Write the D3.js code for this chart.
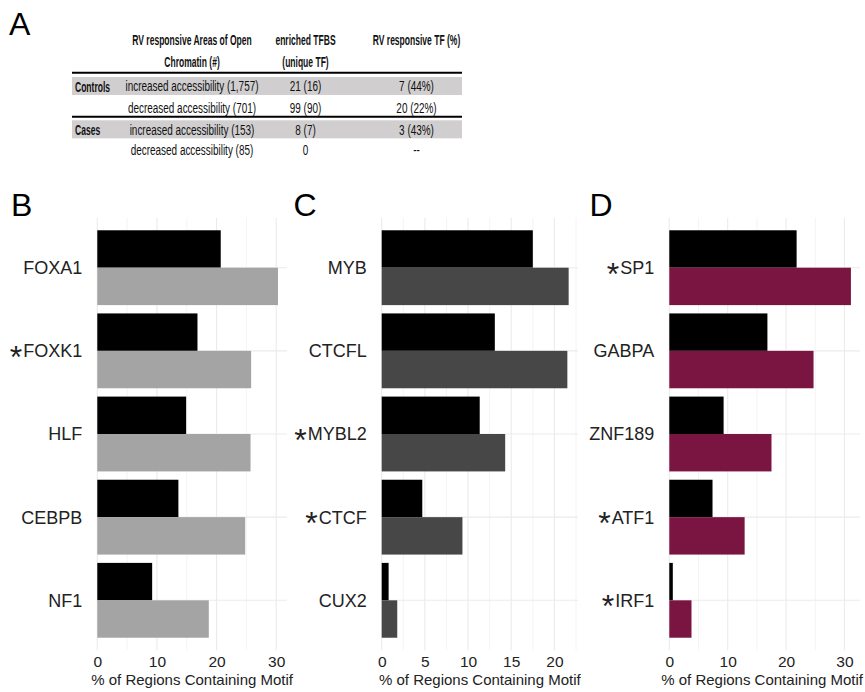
<!DOCTYPE html>
<html>
<head>
<meta charset="utf-8">
<script src="https://cdn.jsdelivr.net/npm/d3@7"></script>
<style>
  body { margin: 0; background: #fff; }
  text { font-family: "Liberation Sans", Arial, sans-serif; }
</style>
</head>
<body>
<svg id="fig" width="865" height="692"></svg>
<script>
// ---- Panel A: summary table ----
const tableHeader = [
  ["RV responsive Areas of Open", "Chromatin (#)"],
  ["enriched TFBS", "(unique TF)"],
  ["RV responsive TF (%)"]
];
const tableGroups = ["Controls", "", "Cases", ""];
const tableRegions = [
  "increased accessibility (1,757)",
  "decreased accessibility (701)",
  "increased accessibility (153)",
  "decreased accessibility (85)"
];
const tableTFBS = ["21 (16)", "99 (90)", "8 (7)", "0"];
const tableResponsive = ["7 (44%)", "20 (22%)", "3 (43%)", "--"];

// ---- Panels B-D: % of regions containing each motif ----
const motifsB = ["FOXA1", "FOXK1", "HLF", "CEBPB", "NF1"];
const starredB = [false, true, false, false, false];
const backgroundB = [20.7, 16.8, 14.9, 13.6, 9.2];
const responsiveB = [30.3, 25.8, 25.7, 24.8, 18.7];
const ticksB = [0, 10, 20, 30];

const motifsC = ["MYB", "CTCFL", "MYBL2", "CTCF", "CUX2"];
const starredC = [false, false, true, true, false];
const backgroundC = [17.5, 13.1, 11.35, 4.7, 0.8];
const responsiveC = [21.65, 21.5, 14.3, 9.35, 1.8];
const ticksC = [0, 5, 10, 15, 20];

const motifsD = ["SP1", "GABPA", "ZNF189", "ATF1", "IRF1"];
const starredD = [true, false, false, true, true];
const backgroundD = [21.8, 16.8, 9.3, 7.4, 0.6];
const responsiveD = [31.1, 24.7, 17.5, 12.9, 3.8];
const ticksD = [0, 10, 20, 30];

const axisTitle = "% of Regions Containing Motif";

const W = 865;
const svg = d3.select("#fig");

// ---------- Table ----------
const tbl = svg.append("g");
const colX = [192, 305.5, 416.5];
const groupX = 75;
const headY = [40, 62];
const rowY = [86.7, 108, 130, 150];
const tblLeft = 72, tblRight = 462;

// condensed lettering for the table cells
function squeezed(sel, x, y, anchor, bold) {
  const sx = bold ? 0.61 : 0.71;
  return sel.append("text")
    .attr("transform", `translate(${x},${y}) scale(${sx},1)`)
    .attr("text-anchor", anchor)
    .attr("dominant-baseline", "central")
    .attr("font-size", 14)
    .attr("font-weight", bold ? "bold" : "normal")
    .attr("fill", "#111");
}

// shaded rows
[0, 2].forEach(i => {
  tbl.append("rect")
    .attr("x", tblLeft).attr("y", rowY[i] - 9.7)
    .attr("width", tblRight - tblLeft).attr("height", 18)
    .attr("fill", "#d0cece");
});
// heavy rules
[72.7, 116.7].forEach(yy => {
  tbl.append("line")
    .attr("x1", tblLeft).attr("x2", tblRight)
    .attr("y1", yy).attr("y2", yy)
    .attr("stroke", "#000").attr("stroke-width", 2);
});
tableHeader.forEach((lines, c) => {
  lines.forEach((t, k) => squeezed(tbl, colX[c], headY[k], "middle", true).text(t));
});
tableGroups.forEach((t, r) => { if (t) squeezed(tbl, groupX, rowY[r], "start", true).text(t); });
tableRegions.forEach((t, r) => squeezed(tbl, colX[0], rowY[r], "middle", false).text(t));
tableTFBS.forEach((t, r) => squeezed(tbl, colX[1], rowY[r], "middle", false).text(t));
tableResponsive.forEach((t, r) => squeezed(tbl, colX[2], rowY[r], "middle", false).text(t));

// panel letters
const letters = [["A", 9, 35], ["B", 11, 216], ["C", 293.4, 216], ["D", 589.5, 216]];
letters.forEach(([t, x, y]) => {
  svg.append("text").attr("x", x).attr("y", y)
    .attr("font-size", 32).attr("fill", "#000").text(t);
});

// ---------- Bar panels ----------
const panelTop = 217.8, panelBottom = 650.2;
const panels = [
  { names: motifsB, starred: starredB, bg: backgroundB, resp: responsiveB, ticks: ticksB, color: "#a4a4a4", left: 97.3, right: 287 },
  { names: motifsC, starred: starredC, bg: backgroundC, resp: responsiveC, ticks: ticksC, color: "#474747", left: 381.7, right: 578 },
  { names: motifsD, starred: starredD, bg: backgroundD, resp: responsiveD, ticks: ticksD, color: "#7a1541", left: 669.3, right: 860 }
];

panels.forEach(p => {
  const g = svg.append("g");
  const xMax = d3.max(p.bg.concat(p.resp)) * 1.05;
  const x = d3.scaleLinear().domain([0, xMax]).range([p.left, p.right]);
  const y = d3.scaleBand().domain(p.names).range([panelTop, panelBottom])
    .paddingInner(0.1).paddingOuter(0.15);
  const sub = d3.scaleBand().domain(["bg", "resp"]).range([0, y.bandwidth()]);

  // grid
  const step = p.ticks[1] - p.ticks[0];
  const minors = d3.range(step / 2, xMax, step);
  g.selectAll(".minor").data(minors).join("line")
    .attr("x1", d => x(d)).attr("x2", d => x(d))
    .attr("y1", panelTop).attr("y2", panelBottom)
    .attr("stroke", "#f1f1f1").attr("stroke-width", 0.8);
  g.selectAll(".major").data(p.ticks).join("line")
    .attr("x1", d => x(d)).attr("x2", d => x(d))
    .attr("y1", panelTop).attr("y2", panelBottom)
    .attr("stroke", "#ebebeb").attr("stroke-width", 1.1);
  g.selectAll(".hgrid").data(p.names).join("line")
    .attr("x1", p.left).attr("x2", p.right)
    .attr("y1", d => y(d) + y.bandwidth() / 2).attr("y2", d => y(d) + y.bandwidth() / 2)
    .attr("stroke", "#ebebeb").attr("stroke-width", 1.1);

  // bars
  g.selectAll(".bgbar").data(p.names).join("rect")
    .attr("x", x(0)).attr("y", d => y(d) + sub("bg"))
    .attr("width", (d, i) => x(p.bg[i]) - x(0)).attr("height", sub.bandwidth())
    .attr("fill", "#000");
  g.selectAll(".respbar").data(p.names).join("rect")
    .attr("x", x(0)).attr("y", d => y(d) + sub("resp"))
    .attr("width", (d, i) => x(p.resp[i]) - x(0)).attr("height", sub.bandwidth())
    .attr("fill", p.color);

  // x axis
  const ax = g.append("g").attr("transform", `translate(0,${panelBottom})`)
    .call(d3.axisBottom(x).tickValues(p.ticks).tickSize(0).tickPadding(0).tickFormat(d3.format("d")));
  ax.select(".domain").remove();
  ax.selectAll("text").attr("font-size", 15.5).attr("fill", "#222")
    .attr("dy", null).attr("y", 667.5 - panelBottom)
    .attr("font-family", "Liberation Sans, Arial, sans-serif");

  const title = g.append("text")
    .attr("x", (p.left + p.right) / 2).attr("y", 684.5)
    .attr("text-anchor", "middle").attr("font-size", 15).attr("fill", "#222")
    .text(axisTitle);
  // keep the title inside the figure
  const tw = title.node().getComputedTextLength();
  const cx = Math.min((p.left + p.right) / 2, W - 2 - tw / 2);
  title.attr("x", cx);

  // category labels, with asterisk for flagged motifs
  p.names.forEach((name, i) => {
    const cy = y(name) + y.bandwidth() / 2;
    const t = g.append("text")
      .attr("x", p.left - 15).attr("y", cy + 6.4)
      .attr("text-anchor", "end").attr("font-size", 18).attr("fill", "#222");
    if (p.starred[i]) {
      t.append("tspan").attr("font-size", 32).attr("dy", 10.6).text("*");
      t.append("tspan").attr("dy", -10.6).attr("dx", 1).text(name);
    } else {
      t.text(name);
    }
  });
});
</script>
</body>
</html>
